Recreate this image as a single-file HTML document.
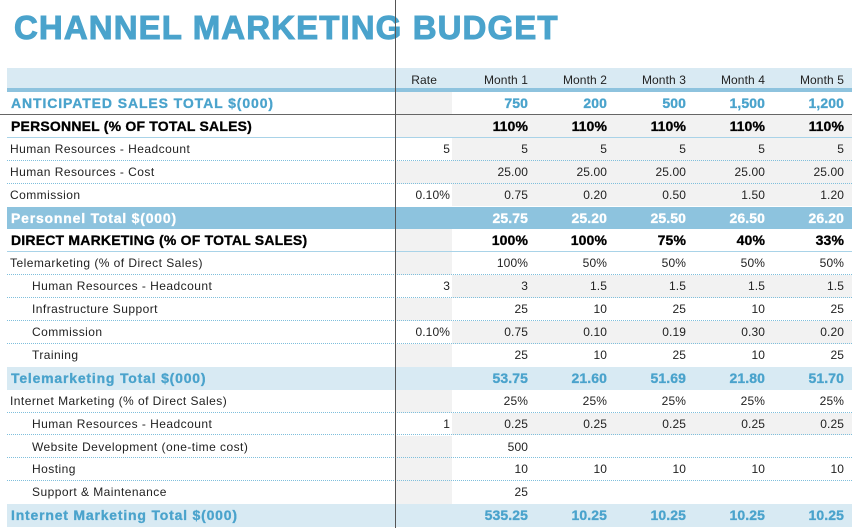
<!DOCTYPE html>
<html><head><meta charset="utf-8">
<style>
html,body{margin:0;padding:0;background:#fff;}
#sheet{position:relative;width:852px;height:528px;overflow:hidden;font-family:"Liberation Sans",Arial,sans-serif;}
.title{position:absolute;left:14px;top:9px;font-size:33px;font-weight:bold;color:#4aa3cc;letter-spacing:1.1px;white-space:nowrap;-webkit-text-stroke:1px #4aa3cc;}
.cell{position:absolute;box-sizing:border-box;white-space:nowrap;overflow:hidden;}
.lbl{font-size:12px;color:#222;letter-spacing:0.45px;}
.num{text-align:right;font-size:12px;color:#222;letter-spacing:0.1px;}
</style></head>
<body>
<div id="sheet">
<div class="title">CHANNEL MARKETING BUDGET</div>
</div>
<script>
// column headers
const monthLabels = ["Month 1","Month 2","Month 3","Month 4","Month 5"];
// row data
const rowLabels = ["ANTICIPATED SALES TOTAL $(000)","PERSONNEL (% OF TOTAL SALES)","Human Resources - Headcount","Human Resources - Cost","Commission","Personnel Total $(000)","DIRECT MARKETING (% OF TOTAL SALES)","Telemarketing (% of Direct Sales)","Human Resources - Headcount","Infrastructure Support","Commission","Training","Telemarketing Total $(000)","Internet Marketing (% of Direct Sales)","Human Resources - Headcount","Website Development (one-time cost)","Hosting","Support & Maintenance","Internet Marketing Total $(000)"];
const rowTypes = ["sales","section","item","item","item","total","section","sub","item2","item2","item2","item2","subtotal","sub","item2","item2","item2","item2","subtotal"];
const rateValues = ["","","5","","0.10%","","","","3","","0.10%","","","","1","","","",""];
const rowValues = [
 ["750","200","500","1,500","1,200"],
 ["110%","110%","110%","110%","110%"],
 ["5","5","5","5","5"],
 ["25.00","25.00","25.00","25.00","25.00"],
 ["0.75","0.20","0.50","1.50","1.20"],
 ["25.75","25.20","25.50","26.50","26.20"],
 ["100%","100%","75%","40%","33%"],
 ["100%","50%","50%","50%","50%"],
 ["3","1.5","1.5","1.5","1.5"],
 ["25","10","25","10","25"],
 ["0.75","0.10","0.19","0.30","0.20"],
 ["25","10","25","10","25"],
 ["53.75","21.60","51.69","21.80","51.70"],
 ["25%","25%","25%","25%","25%"],
 ["0.25","0.25","0.25","0.25","0.25"],
 ["500","","","",""],
 ["10","10","10","10","10"],
 ["25","","","",""],
 ["535.25","10.25","10.25","10.25","10.25"]
];
const rateGrey = [1,1,0,1,0,0,1,1,0,1,0,1,0,1,0,1,1,1,0];
const monthGrey = [0,1,1,1,1,0,0,0,1,0,1,0,0,0,1,0,0,0,0];

const sheet = document.getElementById('sheet');
const L = 7, RATE_X = 395, M_X = 452, M_W = 79, R = 852;
const HEADER_Y = 68, HEADER_H = 24, ROW_H = 22.9;
function mk(parent, cls, x, y, w, h, css, text){
  const d = document.createElement('div');
  d.className = 'cell ' + cls;
  d.style.left = x + 'px'; d.style.top = y + 'px'; d.style.width = w + 'px'; d.style.height = h + 'px';
  if (css) d.style.cssText += css;
  if (text !== undefined) d.textContent = text;
  parent.appendChild(d);
  return d;
}
const hb = mk(sheet, '', L, HEADER_Y, R - L, HEADER_H, 'background:#d9eaf3;border-bottom:4px solid #8ec3de;');


const rh = mk(sheet, 'num', RATE_X, HEADER_Y, 42, 20, 'line-height:24px;');
rh.textContent = 'Rate';


monthLabels.forEach((m, i) => {
  const c = mk(sheet, 'num', M_X + i * M_W, HEADER_Y, M_W - 3, 20, 'line-height:24px;');
  c.textContent = m;
  
  
});

let y = HEADER_Y + HEADER_H;
rowLabels.forEach((label, r) => {
  const t = rowTypes[r];
  const h = ROW_H;
  let bg = '#fff', lblCss = '', numCss = '', border = '1px dotted #7fbfdc';
  if (t === 'sales') { lblCss = 'font-weight:bold;font-size:14px;color:#4aa3cc;letter-spacing:0.9px;-webkit-text-stroke:0.3px #4aa3cc;'; numCss = 'font-weight:bold;font-size:14px;color:#4aa3cc;-webkit-text-stroke:0.3px #4aa3cc;'; border = '1px solid #666'; }
  if (t === 'section') { lblCss = 'font-weight:bold;font-size:14px;color:#000;letter-spacing:0.2px;-webkit-text-stroke:0.3px #000;'; numCss = 'font-weight:bold;font-size:14px;color:#000;-webkit-text-stroke:0.3px #000;'; border = '2px solid #a9d3e8'; }
  if (t === 'total') { bg = '#8dc3de'; lblCss = 'font-weight:bold;font-size:14px;color:#fff;letter-spacing:0.8px;-webkit-text-stroke:0.3px #fff;'; numCss = 'font-weight:bold;font-size:14px;color:#fff;-webkit-text-stroke:0.3px #fff;'; border = 'none'; }
  if (t === 'subtotal') { bg = '#d8eaf3'; lblCss = 'font-weight:bold;font-size:14px;color:#4aa3cc;letter-spacing:0.8px;-webkit-text-stroke:0.3px #4aa3cc;'; numCss = 'font-weight:bold;font-size:14px;color:#4aa3cc;-webkit-text-stroke:0.3px #4aa3cc;'; border = 'none'; }
  if (rowTypes[r + 1] === 'total' || rowTypes[r + 1] === 'subtotal') border = 'none';
  const row = mk(sheet, '', 0, y, R, h, '');
  
  
  mk(row, '', L, 0, R - L, h, 'background:' + bg + ';');
  if (rateGrey[r]) mk(row, '', RATE_X, 0, M_X - RATE_X, h, 'background:#f2f2f2;');
  if (monthGrey[r]) mk(row, '', M_X, 0, R - M_X, h, 'background:#f2f2f2;');
  if (border !== 'none') {
    const bx = t === 'sales' ? 0 : L;
    mk(row, '', bx, h - 1, R - bx, 2, 'border-top:' + border + ';');
  }
  const lx = t === 'item2' ? 32 : (t==='item'||t==='sub' ? 10 : 11);
  const lc = mk(row, 'lbl', lx, 0, 380, h, 'line-height:' + h + 'px;' + lblCss);
  lc.textContent = label;
  
  
  if (rateValues[r]) {
    const rc = mk(row, 'num', RATE_X, 0, M_X - RATE_X - 2, h, 'line-height:' + h + 'px;');
    rc.textContent = rateValues[r];
    
    
  }
  rowValues[r].forEach((v, i) => {
    const c = mk(row, 'num', M_X + i * M_W, 0, M_W - 3, h, 'line-height:' + h + 'px;' + numCss);
    c.textContent = v;
    
    
  });
  y += h;
});
const vl = mk(sheet, '', RATE_X, 0, 1, 528, 'background:#555;');


</script>
</body></html>
